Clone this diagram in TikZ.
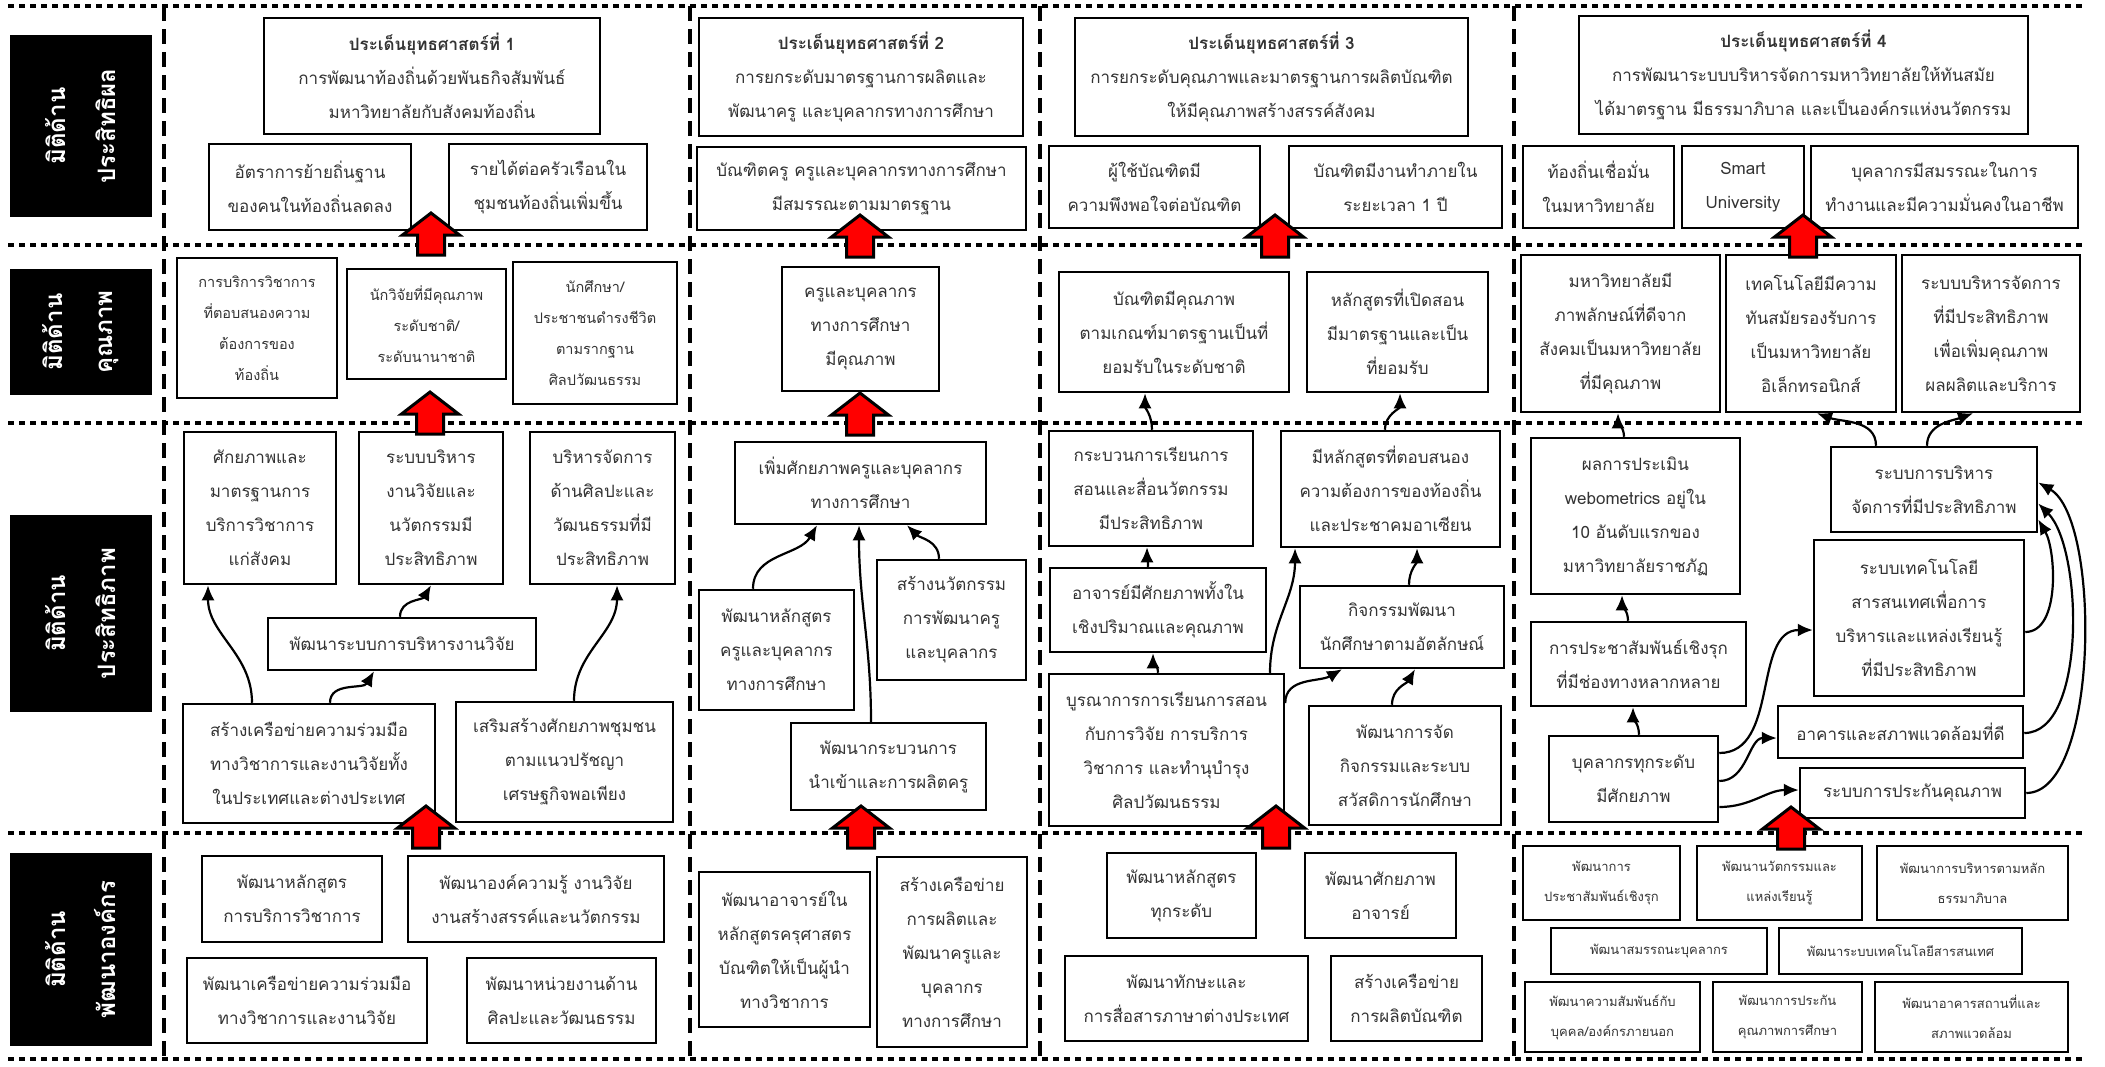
\documentclass[tikz,border=0pt]{standalone}
\usepackage{fontspec}
\setmainfont{Loma}[Script=Thai]
\usetikzlibrary{arrows.meta}

\begin{document}
\begin{tikzpicture}[x=1pt, y=-1pt,
    box/.style={draw, line width=2.5pt, align=center, text=black!80, inner sep=2pt, font=\fontsize{17}{34}\selectfont},
    smalltext/.style={font=\fontsize{14.5}{31}\selectfont},
    tinytext/.style={font=\fontsize{13}{30}\selectfont},
    dimlabel/.style={fill=black, text=white, rotate=90, align=center, inner sep=0pt, font=\bfseries\fontsize{24}{50}\selectfont},
    link/.style={-{Latex[length=15pt,width=13pt]}, line width=2.2pt},
    rowline/.style={line width=4.5pt, dash pattern=on 5.5pt off 5.5pt},
    colline/.style={line width=4.5pt, dash pattern=on 15pt off 8pt},
    redarrow/.style={fill=red, draw=black, line width=3pt}]
    \useasboundingbox (0,0) rectangle (2105,1066);

    \foreach \y in {6,245,423,833,1059} \draw[rowline] (8,\y) -- (2082,\y);
    \foreach \x in {164,690,1040,1514} \draw[colline] (\x,6) -- (\x,1059);

    \node[dimlabel, minimum width=182pt, minimum height=142pt] (l1) at (81,126) {มิติด้าน\\ประสิทธิผล};
    \node[dimlabel, minimum width=126pt, minimum height=142pt] (l2) at (81,332) {มิติด้าน\\คุณภาพ};
    \node[dimlabel, minimum width=197pt, minimum height=142pt] (l3) at (81,613.5) {มิติด้าน\\ประสิทธิภาพ};
    \node[dimlabel, minimum width=193pt, minimum height=142pt] (l4) at (81,949.5) {มิติด้าน\\พัฒนาองค์กร};

    \node[box, minimum width=336pt, minimum height=116pt] (g1) at (432,76) {\textbf{ประเด็นยุทธศาสตร์ที่ 1}\\การพัฒนาท้องถิ่นด้วยพันธกิจสัมพันธ์\\มหาวิทยาลัยกับสังคมท้องถิ่น};
    \node[box, minimum width=324pt, minimum height=118pt] (g2) at (861,77) {\textbf{ประเด็นยุทธศาสตร์ที่ 2}\\การยกระดับมาตรฐานการผลิตและ\\พัฒนาครู และบุคลากรทางการศึกษา};
    \node[box, minimum width=393pt, minimum height=118pt] (g3) at (1271.5,77) {\textbf{ประเด็นยุทธศาสตร์ที่ 3}\\การยกระดับคุณภาพและมาตรฐานการผลิตบัณฑิต\\ให้มีคุณภาพสร้างสรรค์สังคม};
    \node[box, minimum width=449pt, minimum height=118pt] (g4) at (1803.5,75) {\textbf{ประเด็นยุทธศาสตร์ที่ 4}\\การพัฒนาระบบบริหารจัดการมหาวิทยาลัยให้ทันสมัย\\ได้มาตรฐาน มีธรรมาภิบาล และเป็นองค์กรแห่งนวัตกรรม};

    \node[box, minimum width=202pt, minimum height=86pt] (r1a) at (310,187) {อัตราการย้ายถิ่นฐาน\\ของคนในท้องถิ่นลดลง};
    \node[box, minimum width=198pt, minimum height=86pt] (r1b) at (548,187) {รายได้ต่อครัวเรือนใน\\ชุมชนท้องถิ่นเพิ่มขึ้น};
    \node[box, minimum width=329pt, minimum height=83pt] (r2a) at (861.5,188.5) {บัณฑิตครู ครูและบุคลากรทางการศึกษา\\มีสมรรณะตามมาตรฐาน};
    \node[box, minimum width=211pt, minimum height=82pt] (r3a) at (1154.5,187) {ผู้ใช้บัณฑิตมี\\ความพึงพอใจต่อบัณฑิต};
    \node[box, minimum width=213pt, minimum height=82pt] (r3b) at (1395.5,187) {บัณฑิตมีงานทำภายใน\\ระยะเวลา 1 ปี};
    \node[box, minimum width=151pt, minimum height=82pt] (r4a) at (1598.5,187) {ท้องถิ่นเชื่อมั่น\\ในมหาวิทยาลัย};
    \node[box, minimum width=122pt, minimum height=82pt] (r4b) at (1743,187) {Smart\\University};
    \node[box, minimum width=267pt, minimum height=82pt] (r4c) at (1944.5,187) {บุคลากรมีสมรรณะในการ\\ทำงานและมีความมั่นคงในอาชีพ};

    \node[box, smalltext, minimum width=160pt, minimum height=140pt] (q1a) at (257,328) {การบริการวิชาการ\\ที่ตอบสนองความ\\ต้องการของ\\ท้องถิ่น};
    \node[box, smalltext, minimum width=159pt, minimum height=110pt] (q1b) at (426.5,324) {นักวิจัยที่มีคุณภาพ\\ระดับชาติ/\\ระดับนานาชาติ};
    \node[box, smalltext, minimum width=164pt, minimum height=142pt] (q1c) at (595,333) {นักศึกษา/\\ประชาชนดำรงชีวิต\\ตามรากฐาน\\ศิลปวัฒนธรรม};
    \node[box, minimum width=157pt, minimum height=124pt] (q2) at (860.5,329) {ครูและบุคลากร\\ทางการศึกษา\\มีคุณภาพ};
    \node[box, minimum width=230pt, minimum height=120pt] (q3a) at (1174,332) {บัณฑิตมีคุณภาพ\\ตามเกณฑ์มาตรฐานเป็นที่\\ยอมรับในระดับชาติ};
    \node[box, minimum width=181pt, minimum height=120pt] (q3b) at (1397.5,332) {หลักสูตรที่เปิดสอน\\มีมาตรฐานและเป็น\\ที่ยอมรับ};
    \node[box, minimum width=199pt, minimum height=157pt] (q4a) at (1620.5,333.5) {มหาวิทยาลัยมี\\ภาพลักษณ์ที่ดีจาก\\สังคมเป็นมหาวิทยาลัย\\ที่มีคุณภาพ};
    \node[box, minimum width=170pt, minimum height=157pt] (q4b) at (1811,333.5) {เทคโนโลยีมีความ\\ทันสมัยรองรับการ\\เป็นมหาวิทยาลัย\\อิเล็กทรอนิกส์};
    \node[box, minimum width=178pt, minimum height=157pt] (q4c) at (1991,333.5) {ระบบบริหารจัดการ\\ที่มีประสิทธิภาพ\\เพื่อเพิ่มคุณภาพ\\ผลผลิตและบริการ};

    \node[box, minimum width=152pt, minimum height=152pt] (e1a) at (260,508) {ศักยภาพและ\\มาตรฐานการ\\บริการวิชาการ\\แก่สังคม};
    \node[box, minimum width=144pt, minimum height=152pt] (e1b) at (431,508) {ระบบบริหาร\\งานวิจัยและ\\นวัตกรรมมี\\ประสิทธิภาพ};
    \node[box, minimum width=145pt, minimum height=152pt] (e1c) at (602.5,508) {บริหารจัดการ\\ด้านศิลปะและ\\วัฒนธรรมที่มี\\ประสิทธิภาพ};
    \node[box, minimum width=268pt, minimum height=52pt] (e1d) at (402,644) {พัฒนาระบบการบริหารงานวิจัย};
    \node[box, minimum width=252pt, minimum height=119pt] (e1e) at (309,763.5) {สร้างเครือข่ายความร่วมมือ\\ทางวิชาการและงานวิจัยทั้ง\\ในประเทศและต่างประเทศ};
    \node[box, minimum width=217pt, minimum height=120pt] (e1f) at (564.5,762) {เสริมสร้างศักยภาพชุมชน\\ตามแนวปรัชญา\\เศรษฐกิจพอเพียง};

    \node[box, minimum width=251pt, minimum height=82pt] (e2) at (860.5,483) {เพิ่มศักยภาพครูและบุคลากร\\ทางการศึกษา};
    \node[box, minimum width=155pt, minimum height=120pt] (e2a) at (776.5,650) {พัฒนาหลักสูตร\\ครูและบุคลากร\\ทางการศึกษา};
    \node[box, minimum width=149pt, minimum height=120pt] (e2b) at (951.5,620) {สร้างนวัตกรรม\\การพัฒนาครู\\และบุคลากร};
    \node[box, minimum width=195pt, minimum height=87pt] (e2c) at (888.5,766.5) {พัฒนากระบวนการ\\นำเข้าและการผลิตครู};

    \node[box, minimum width=204pt, minimum height=115pt] (e3a) at (1151,488.5) {กระบวนการเรียนการ\\สอนและสื่อนวัตกรรม\\มีประสิทธิภาพ};
    \node[box, minimum width=219pt, minimum height=116pt] (e3b) at (1390.5,489) {มีหลักสูตรที่ตอบสนอง\\ความต้องการของท้องถิ่น\\และประชาคมอาเซียน};
    \node[box, minimum width=216pt, minimum height=84pt] (e3c) at (1158,610) {อาจารย์มีศักยภาพทั้งใน\\เชิงปริมาณและคุณภาพ};
    \node[box, minimum width=204pt, minimum height=82pt] (e3d) at (1402,627) {กิจกรรมพัฒนา\\นักศึกษาตามอัตลักษณ์};
    \node[box, minimum width=235pt, minimum height=152pt] (e3e) at (1166.5,750) {บูรณาการการเรียนการสอน\\กับการวิจัย การบริการ\\วิชาการ และทำนุบำรุง\\ศิลปวัฒนธรรม};
    \node[box, minimum width=192pt, minimum height=119pt] (e3f) at (1405,765.5) {พัฒนาการจัด\\กิจกรรมและระบบ\\สวัสดิการนักศึกษา};

    \node[box, minimum width=209pt, minimum height=156pt] (e4a) at (1635.5,516) {ผลการประเมิน\\webometrics อยู่ใน\\10 อันดับแรกของ\\มหาวิทยาลัยราชภัฏ};
    \node[box, minimum width=215pt, minimum height=84pt] (e4b) at (1638.5,664) {การประชาสัมพันธ์เชิงรุก\\ที่มีช่องทางหลากหลาย};
    \node[box, minimum width=169pt, minimum height=86pt] (e4c) at (1633.5,779) {บุคลากรทุกระดับ\\มีศักยภาพ};
    \node[box, minimum width=206pt, minimum height=85pt] (e4d) at (1934,489.5) {ระบบการบริหาร\\จัดการที่มีประสิทธิภาพ};
    \node[box, minimum width=210pt, minimum height=156pt] (e4e) at (1919,618) {ระบบเทคโนโลยี\\สารสนเทศเพื่อการ\\บริหารและแหล่งเรียนรู้\\ที่มีประสิทธิภาพ};
    \node[box, minimum width=245pt, minimum height=52pt] (e4f) at (1900.5,732) {อาคารและสภาพแวดล้อมที่ดี};
    \node[box, minimum width=225pt, minimum height=50pt] (e4g) at (1912.5,793) {ระบบการประกันคุณภาพ};

    \node[box, minimum width=180pt, minimum height=86pt] (b1a) at (292,899) {พัฒนาหลักสูตร\\การบริการวิชาการ};
    \node[box, minimum width=256pt, minimum height=86pt] (b1b) at (536,899) {พัฒนาองค์ความรู้ งานวิจัย\\งานสร้างสรรค์และนวัตกรรม};
    \node[box, minimum width=240pt, minimum height=85pt] (b1c) at (307,1000.5) {พัฒนาเครือข่ายความร่วมมือ\\ทางวิชาการและงานวิจัย};
    \node[box, minimum width=189pt, minimum height=85pt] (b1d) at (561.5,1000.5) {พัฒนาหน่วยงานด้าน\\ศิลปะและวัฒนธรรม};
    \node[box, minimum width=171pt, minimum height=155pt] (b2a) at (784.5,949.5) {พัฒนาอาจารย์ใน\\หลักสูตรครุศาสตร\\บัณฑิตให้เป็นผู้นำ\\ทางวิชาการ};
    \node[box, minimum width=150pt, minimum height=190pt] (b2b) at (952,952) {สร้างเครือข่าย\\การผลิตและ\\พัฒนาครูและ\\บุคลากร\\ทางการศึกษา};
    \node[box, minimum width=149pt, minimum height=85pt] (b3a) at (1181.5,895.5) {พัฒนาหลักสูตร\\ทุกระดับ};
    \node[box, minimum width=151pt, minimum height=85pt] (b3b) at (1380.5,895.5) {พัฒนาศักยภาพ\\อาจารย์};
    \node[box, minimum width=243pt, minimum height=85pt] (b3c) at (1186.5,998.5) {พัฒนาทักษะและ\\การสื่อสารภาษาต่างประเทศ};
    \node[box, minimum width=151pt, minimum height=85pt] (b3d) at (1406.5,998.5) {สร้างเครือข่าย\\การผลิตบัณฑิต};
    \node[box, tinytext, minimum width=157pt, minimum height=74pt] (b4a) at (1601.5,883) {พัฒนาการ\\ประชาสัมพันธ์เชิงรุก};
    \node[box, tinytext, minimum width=165pt, minimum height=74pt] (b4b) at (1779.5,883) {พัฒนานวัตกรรมและ\\แหล่งเรียนรู้};
    \node[box, tinytext, minimum width=191pt, minimum height=74pt] (b4c) at (1972.5,883) {พัฒนาการบริหารตามหลัก\\ธรรมาภิบาล};
    \node[box, tinytext, minimum width=216pt, minimum height=46pt] (b4d) at (1659,951) {พัฒนาสมรรถนะบุคลากร};
    \node[box, tinytext, minimum width=243pt, minimum height=46pt] (b4e) at (1900.5,951) {พัฒนาระบบเทคโนโลยีสารสนเทศ};
    \node[box, tinytext, minimum width=175pt, minimum height=70pt] (b4f) at (1612.5,1017) {พัฒนาความสัมพันธ์กับ\\บุคคล/องค์กรภายนอก};
    \node[box, tinytext, minimum width=149pt, minimum height=70pt] (b4g) at (1787.5,1017) {พัฒนาการประกัน\\คุณภาพการศึกษา};
    \node[box, tinytext, minimum width=193pt, minimum height=70pt] (b4h) at (1971.5,1017) {พัฒนาอาคารสถานที่และ\\สภาพแวดล้อม};

    \draw[link] ([xshift=-57pt]e1e.north) to[out=90,in=-90] ([xshift=-52pt]e1a.south);
    \draw[link] ([xshift=21pt]e1e.north) to[out=90,in=-120] ([xshift=-28pt]e1d.south);
    \draw[link] ([xshift=-2pt]e1d.north) to[out=90,in=-120] (e1b.south);
    \draw[link] ([xshift=9.5pt]e1f.north) to[out=90,in=-90] ([xshift=14.5pt]e1c.south);

    \draw[link] ([xshift=-23.5pt]e2a.north) to[out=90,in=-120] ([xshift=-43.5pt]e2.south);
    \draw[link] ([xshift=-17.5pt]e2c.north) to[out=90,in=-90] ([xshift=-1.5pt]e2.south);
    \draw[link] ([xshift=-12.5pt]e2b.north) to[out=90,in=-45] ([xshift=46.5pt]e2.south);

    \draw[link] ([xshift=1pt]e3a.north) to[out=90,in=-90] ([xshift=-29pt]q3a.south);
    \draw[link] ([xshift=-5.5pt]e3b.north) to[out=90,in=-90] ([xshift=2.5pt]q3b.south);
    \draw[link] ([xshift=-10pt]e3c.north) to[out=90,in=-90] ([xshift=-4pt]e3a.south);
    \draw[link] ([xshift=-8.5pt]e3e.north) to[out=90,in=-90] ([xshift=-5pt]e3c.south);
    \draw[link] ([xshift=103.5pt]e3e.north) to[out=90,in=-90] ([xshift=-95.5pt]e3b.south);
    \draw[link] ([yshift=47pt]e3e.east) to[out=90,in=-150] ([xshift=-60pt]e3d.south);
    \draw[link] ([xshift=-13pt]e3f.north) to[out=90,in=-120] ([xshift=13pt]e3d.south);
    \draw[link] ([xshift=7pt]e3d.north) to[out=90,in=-90] ([xshift=26.5pt]e3b.south);

    \draw[link] ([xshift=-11.5pt]e4a.north) to[out=90,in=-90] ([xshift=-2.5pt]q4a.south);
    \draw[link] ([xshift=-10.5pt]e4b.north) to[out=90,in=-90] ([xshift=-13.5pt]e4a.south);
    \draw[link] ([xshift=5.5pt]e4c.north) to[out=90,in=-90] ([xshift=-5.5pt]e4b.south);
    \draw[link] ([yshift=26pt]e4c.east) to[out=0,in=180] ([yshift=-12pt]e4e.west);
    \draw[link] ([yshift=-2pt]e4c.east) to[out=0,in=180] ([yshift=-6pt]e4f.west);
    \draw[link] ([yshift=-28pt]e4c.east) to[out=0,in=180] ([yshift=3pt]e4g.west);
    \draw[link] ([yshift=-14pt]e4e.east) to[out=0,in=-60,looseness=0.8] ([yshift=-30pt]e4d.east);
    \draw[link] ([yshift=-1pt]e4f.east) to[out=0,in=-45,looseness=0.7] ([yshift=-14pt]e4d.east);
    \draw[link] (e4g.east) to[out=0,in=-30,looseness=0.6] ([yshift=7pt]e4d.east);
    \draw[link] ([xshift=-58pt]e4d.north) to[out=90,in=-20] ([xshift=6pt]q4b.south);
    \draw[link] ([xshift=-7pt]e4d.north) to[out=90,in=-160] ([xshift=-18pt]q4c.south);

    \foreach \cx/\ty in {431/213, 860/215, 1275/215, 1803/215, 430/392, 860/393, 426/806, 861/806, 1276/806, 1791/807}
        \draw[redarrow] (\cx,\ty) -- ++(28.5,22) -- ++(-15,0) -- ++(0,20) -- ++(-27,0) -- ++(0,-20) -- ++(-15,0) -- cycle;
\end{tikzpicture}
\end{document}
